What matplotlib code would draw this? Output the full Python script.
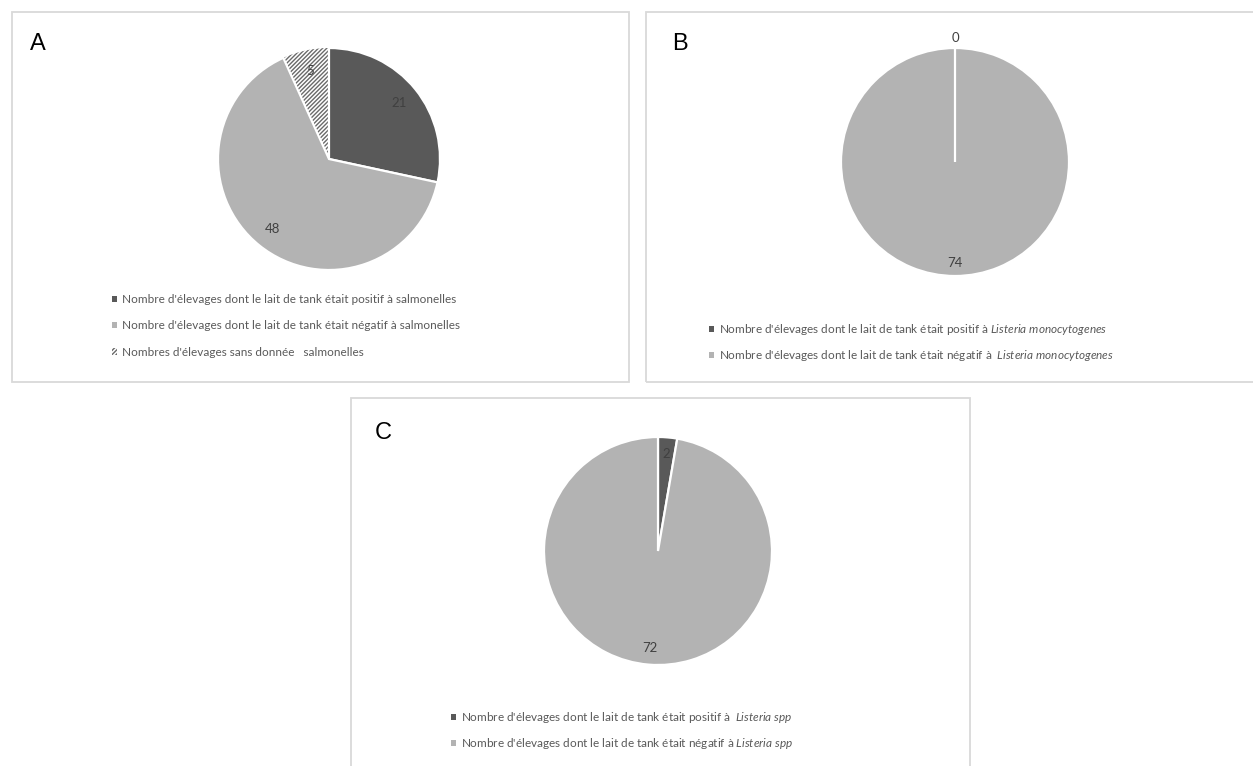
import matplotlib
matplotlib.use("Agg")
import matplotlib.pyplot as plt
from matplotlib.patches import Rectangle

plt.rcParams['font.family'] = ['Lato', 'DejaVu Sans']
plt.rcParams['mathtext.fontset'] = 'custom'
plt.rcParams['mathtext.it'] = 'Lato:italic'
plt.rcParams['mathtext.rm'] = 'Lato'

# ---- data ----
a_values = [21, 48, 5]
a_labels = ["Nombre d'élevages dont le lait de tank était positif à salmonelles",
            "Nombre d'élevages dont le lait de tank était négatif à salmonelles",
            "Nombres d'élevages sans donnée   salmonelles"]
b_values = [0, 74]
b_labels = ["Nombre d'élevages dont le lait de tank était positif à $\\mathit{Listeria\\ monocytogenes}$",
            "Nombre d'élevages dont le lait de tank était négatif à  $\\mathit{Listeria\\ monocytogenes}$"]
c_values = [2, 72]
c_labels = ["Nombre d'élevages dont le lait de tank était positif à  $\\mathit{Listeria\\ spp}$",
            "Nombre d'élevages dont le lait de tank était négatif à $\\mathit{Listeria\\ spp}$"]

DARK = '#595959'
LIGHT = '#b3b3b3'
TEXT = '#595959'

W, H = 1253, 766
fig = plt.figure(figsize=(W / 100, H / 100), dpi=100)


def fx(x):
    return x / W


def fy(y):
    return 1 - y / H


# panel boxes
for (x0, y0, x1, y1) in [(12, 12, 629, 382), (646, 12, 1260, 382), (351, 398, 970, 775)]:
    fig.add_artist(Rectangle((fx(x0), fy(y1)), fx(x1) - fx(x0), fy(y0) - fy(y1),
                             transform=fig.transFigure, fill=False,
                             edgecolor='#d9d9d9', linewidth=1.3))

for letter, (x, y) in zip("ABC", [(38, 44), (680, 44), (383, 433)]):
    fig.text(fx(x), fy(y), letter, fontsize=17, family='Liberation Sans',
             ha='center', va='center', color='black')


def make_pie(cx, cy, r, values, colors, inside_dist, hatch_idx=None):
    ax = fig.add_axes([fx(cx - r), fy(cy + r), 2 * r / W, 2 * r / H])
    wedges, texts = ax.pie(values, colors=colors, startangle=90, counterclock=False,
                           labels=[str(v) for v in values],
                           labeldistance=inside_dist,
                           wedgeprops=dict(edgecolor='white', linewidth=1.6),
                           textprops=dict(fontsize=9.5, color='#404040'))
    for t in texts:
        t.set_ha('center')
        t.set_va('center')
    for v, t, w in zip(values, texts, wedges):
        if v == 0:
            x, y = t.get_position()
            t.set_position((x / inside_dist * 1.09, y / inside_dist * 1.09))
            w.set_zorder(3)
    if hatch_idx is not None:
        w = wedges[hatch_idx]
        w.set_facecolor('white')
        w.set_hatch('////////')
        w.set_edgecolor('#6a6a6a')
        w.set_linewidth(0)
        w.set_zorder(0.5)
    ax.set_xlim(-1, 1)
    ax.set_ylim(-1, 1)
    ax.axis('off')
    return wedges


wa = make_pie(329, 159, 111, a_values, [DARK, LIGHT, 'white'], 0.81, hatch_idx=2)
wb = make_pie(955, 162, 114, b_values, [DARK, LIGHT], 0.89)
wc = make_pie(658, 551, 114, c_values, [DARK, LIGHT], 0.85)


def make_legend(handles, labels, x, y, spacing):
    leg = fig.legend(handles, labels, loc='upper left',
                     bbox_to_anchor=(fx(x), fy(y)), frameon=False,
                     fontsize=8.5, handlelength=0.42, handleheight=0.42,
                     handletextpad=0.4, labelspacing=spacing,
                     borderaxespad=0, borderpad=0, labelcolor=TEXT)
    for h in leg.legend_handles:
        h.set_linewidth(0)
    return leg


make_legend(wa, a_labels, 112, 294, 1.3)
make_legend(wb, b_labels, 709, 322, 0.95)
make_legend(wc, c_labels, 451, 710, 0.95)

fig.savefig('out.png', dpi=100)
